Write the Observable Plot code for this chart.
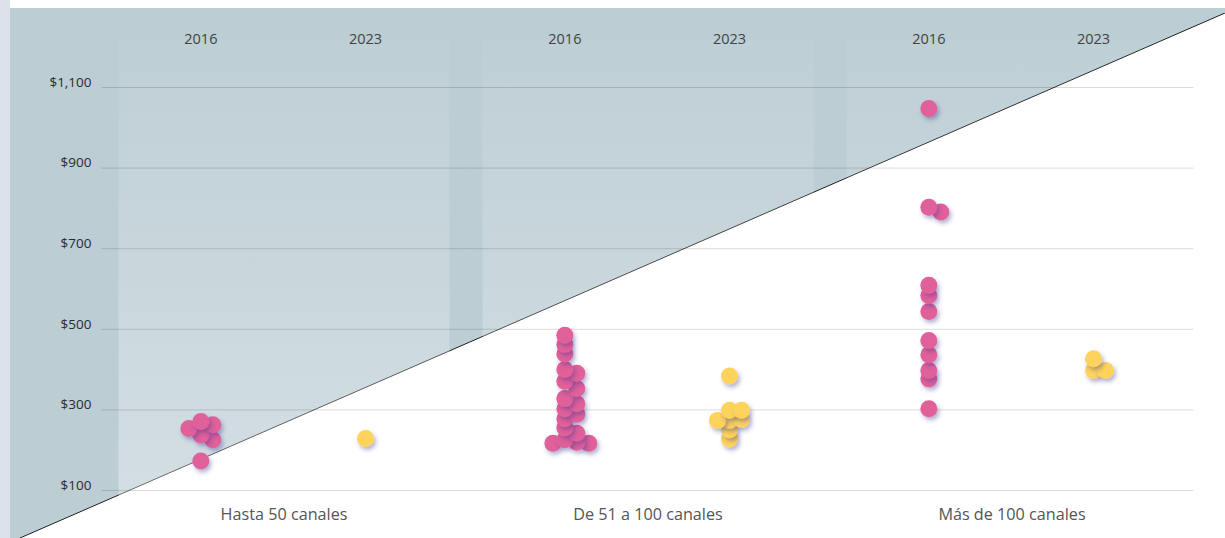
<!DOCTYPE html>
<html>
<head>
<meta charset="utf-8">
<script src="https://cdn.jsdelivr.net/npm/d3@7"></script>
<script src="https://cdn.jsdelivr.net/npm/@observablehq/plot@0.6"></script>
<style>
  html, body { margin: 0; padding: 0; background: #ffffff; width: 1225px; height: 538px; overflow: hidden; }
  .bg { position: absolute; }
  #strip { left: 0; top: 0; width: 10px; height: 538px; background: #dde2e8; }
  #triL { left: 10px; top: 8px; width: 10px; height: 530px; background: #bccdd4; }
  #triT { left: 10px; top: 8px; width: 1215px; height: 5px; background: #bccdd4; }
  #tri { left: 20px; top: 13px; width: 1205px; height: 525px;
    background:
      linear-gradient(to bottom right, transparent calc(50% - 0.9px), #1c1c1c 50%, transparent calc(50% + 0.9px)),
      linear-gradient(to bottom right, #bccdd4 50%, rgba(255,255,255,0) 50%);
  }
  #chart { position: absolute; left: 0; top: 0; }
</style>
</head>
<body>
<div class="bg" id="strip"></div>
<div class="bg" id="triL"></div>
<div class="bg" id="triT"></div>
<div class="bg" id="tri"></div>
<div id="chart"></div>
<script>
// ---- data ----
const groups = ["Hasta 50 canales", "De 51 a 100 canales", "Más de 100 canales"];
const years = ["2016", "2023"];
const yTicks = [100, 300, 500, 700, 900, 1100];

const hasta50_2016 = [271, 263, 254, 238, 226, 173];
const hasta50_2023 = [229];
const de51a100_2016 = [485, 462, 439, 400, 391, 371, 353, 328, 315, 303, 289, 278, 256, 242, 226, 220, 217, 217];
const de51a100_2023 = [384, 299, 299, 274, 276, 274, 251, 228];
const mas100_2016 = [1048, 803, 791, 609, 584, 544, 472, 437, 398, 377, 303];
const mas100_2023 = [427, 398, 398];

// ---- layout ----
const W = 1225, H = 538;
const mL = 117, mR = 47, mT = 87, mB = 48;
const fxPad = 0.09;
const xDomain = [-0.5, 1.51];
const yDomain = [100, 1100];

const fxStep = (W - mL - mR) / (groups.length - fxPad);
const facetW = fxStep * (1 - fxPad);
const halfGap = (fxStep - facetW) / 2;
const slotPx = facetW / (xDomain[1] - xDomain[0]);
const yPx = d3.scaleLinear(yDomain, [H - mB, mT]);
const STEP = 12, MIND = 7.5;

// beeswarm-style horizontal spreading (computed, not typed)
const cells = [
  [groups[0], 0, hasta50_2016], [groups[0], 1, hasta50_2023],
  [groups[1], 0, de51a100_2016], [groups[1], 1, de51a100_2023],
  [groups[2], 0, mas100_2016], [groups[2], 1, mas100_2023]
];
const data = [];
for (const [group, yi, values] of cells) {
  const placed = [];
  for (const v of values) {
    const py = yPx(v);
    let off = 0;
    for (let n = 0; n < 30; n++) {
      const cand = n === 0 ? 0 : (n % 2 ? 1 : -1) * Math.ceil(n / 2) * STEP;
      if (placed.every(p => Math.hypot(p.ox - cand, p.py - py) >= MIND)) { off = cand; break; }
    }
    placed.push({ox: off, py});
    data.push({group, year: years[yi], value: v, xs: yi + off / slotPx});
  }
}
data.sort((a, b) => a.value - b.value);

const PINK = "#e0609a", YELLOW = "#fdd35c";
const FONT = "'Open Sans', Inter, sans-serif";

const chart = Plot.plot({
  width: W, height: H,
  marginLeft: mL, marginRight: mR, marginTop: mT, marginBottom: mB,
  style: {background: "transparent", fontFamily: FONT, color: "#444"},
  fx: {domain: groups, paddingInner: fxPad, paddingOuter: 0, label: null},
  x: {type: "linear", domain: xDomain, label: null},
  y: {domain: yDomain, label: null},
  marks: [
    Plot.frame({fill: "#ffffff", fillOpacity: 0.2, stroke: "none", insetTop: -47, insetBottom: -48}),
    Plot.ruleY(yTicks, {y: d => d, stroke: "#000", strokeOpacity: 0.14, insetLeft: -halfGap, insetRight: -halfGap}),
    Plot.axisY(yTicks, {tickSize: 0, tickPadding: 27, dy: -5, fontSize: 13.5, fill: "#2b2b2b",
      tickFormat: d => "$" + d3.format(",")(d), label: null}),
    Plot.axisX([0, 1], {anchor: "top", tickSize: 0, tickPadding: 44, fontSize: 14.5, fill: "#444",
      tickFormat: i => years[i], label: null}),
    Plot.axisFx({anchor: "bottom", tickSize: 0, tickPadding: 18, fontSize: 16.2, fill: "#555", label: null}),
    Plot.dot(data.filter(d => d.year === "2016"), {fx: "group", x: "xs", y: "value", r: 8.5, fill: PINK, stroke: "none"}),
    Plot.dot(data.filter(d => d.year === "2023"), {fx: "group", x: "xs", y: "value", r: 8.5, fill: YELLOW, stroke: "none"})
  ]
});
document.getElementById("chart").appendChild(chart);

// ---- decoration: gradients and shadows ----
const svg = d3.select(chart.tagName.toLowerCase() === "svg" ? chart : chart.querySelector("svg"));
const defs = svg.insert("defs", ":first-child");
const f = defs.append("filter").attr("id", "sh").attr("x", "-60%").attr("y", "-60%").attr("width", "220%").attr("height", "220%");
f.append("feDropShadow").attr("dx", 2).attr("dy", 3).attr("stdDeviation", 2)
  .attr("flood-color", "#3b2f8c").attr("flood-opacity", 0.38);
function grad(id, a, b) {
  const g = defs.append("linearGradient").attr("id", id).attr("x1", 0).attr("x2", 1).attr("y1", 0).attr("y2", 0);
  g.append("stop").attr("offset", "0%").attr("stop-color", a);
  g.append("stop").attr("offset", "100%").attr("stop-color", b);
}
grad("gPink", "#ec69a0", "#cb5192");
grad("gYellow", "#ffd965", "#f8cf57");
const pg = defs.append("linearGradient").attr("id", "gPanel").attr("x1", 0).attr("x2", 0).attr("y1", 0).attr("y2", 1);
pg.append("stop").attr("offset", "0%").attr("stop-color", "#fff").attr("stop-opacity", 0.04);
pg.append("stop").attr("offset", "100%").attr("stop-color", "#fff").attr("stop-opacity", 0.38);

svg.selectAll("g[aria-label=frame]").each(function () {
  d3.select(this).attr("fill", "url(#gPanel)").attr("fill-opacity", null);
  d3.select(this).selectAll("rect").attr("fill", "url(#gPanel)").attr("fill-opacity", null);
});
svg.selectAll("g[aria-label=dot]").each(function () {
  const g = d3.select(this);
  const fill = (g.attr("fill") || "").toLowerCase();
  const url = fill === YELLOW ? "url(#gYellow)" : "url(#gPink)";
  g.attr("fill", url);
  g.selectAll("circle").attr("filter", "url(#sh)");
});
</script>
</body>
</html>
